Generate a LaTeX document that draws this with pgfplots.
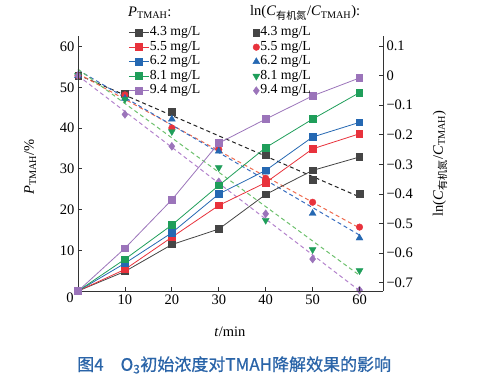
\documentclass[border=0pt]{standalone}
\usepackage{pgfplots}
\pgfplotsset{compat=1.18}
\usepackage{fontspec}
\setmainfont{Liberation Serif}
\newfontfamily\cjk{Noto Sans CJK SC}
\newfontfamily\cjkcap{Noto Sans CJK SC}[FakeBold=0.7]
\newcommand\fs{\fontsize{14.5bp}{17bp}\selectfont}
\newcommand\fl{\fontsize{13.8bp}{16bp}\selectfont}
\definecolor{cblack}{HTML}{454545}
\definecolor{cred}{HTML}{E8323C}
\definecolor{cblue}{HTML}{2568B2}
\definecolor{cgreen}{HTML}{1F9E5A}
\definecolor{cpurple}{HTML}{9B74BA}
\definecolor{dblack}{HTML}{222222}
\definecolor{dred}{HTML}{EE6A4E}
\definecolor{dblue}{HTML}{3A6EC0}
\definecolor{dgreen}{HTML}{6CC06C}
\definecolor{dpurple}{HTML}{B382CC}
\definecolor{capblue}{HTML}{2A64A8}
\pgfplotsset{
  pleg/.style={legend image code/.code={\draw[mark repeat=2,mark phase=2,##1] plot coordinates {(0bp,0bp)(10bp,0bp)(20bp,0bp)};}},
  lnleg/.style={legend image code/.code={\draw[mark repeat=2,mark phase=2,##1] plot coordinates {(0bp,0bp)(5bp,0bp)(10bp,0bp)};}},
  pbase/.style={line width=0.8bp, mark=square*, mark size=3.3bp, mark options={solid}},
  lnbase/.style={only marks, mark size=3.3bp},
  fitline/.style={line width=1bp, dash pattern=on 4bp off 3bp, no marks},
  common/.style={scale only axis, width=305bp, height=255bp, xmin=0, xmax=65,
    tick align=inside, major tick length=4bp,
    tick style={draw=black!80, line width=0.8bp},
    axis line style={draw=black!80, line width=0.8bp, -},
    tick label style={font=\fs}, label style={font=\fs}},
}
\begin{document}
\begin{tikzpicture}[font=\fs]
\useasboundingbox (-78bp,-84bp) rectangle (406bp,291bp);
% right axis: ln(C/C)
\begin{axis}[common,
  ymin=-0.728, ymax=0.134, clip=false,
  axis y line*=right, axis x line=none,
  ytick={-0.7,-0.6,-0.5,-0.4,-0.3,-0.2,-0.1,0,0.1},
  yticklabels={−0.7,−0.6,−0.5,−0.4,−0.3,−0.2,−0.1,0,0.1},
  ylabel={ln(\textit{C}\textsubscript{\cjk 有机氮}/\textit{C}\textsubscript{TMAH})},
  ylabel style={at={(axis description cs:1.187,0.5)}, anchor=center},
]
\addplot[fitline, dblack] coordinates {(0,0.003)(60,-0.410)};
\addplot[fitline, dred] coordinates {(0,0.007)(60,-0.515)};
\addplot[fitline, dblue] coordinates {(0,0.019)(60,-0.539)};
\addplot[fitline, dgreen] coordinates {(0,0.022)(60,-0.675)};
\addplot[fitline, dpurple] coordinates {(0,0.0)(60,-0.727)};
\addplot[lnbase, mark=square*, color=cblack] coordinates {(0,0)(10,-0.060)(20,-0.121)(30,-0.225)(40,-0.269)(50,-0.351)(60,-0.399)};
\addplot[lnbase, mark=*, color=cred] coordinates {(0,0)(10,-0.065)(20,-0.177)(30,-0.249)(40,-0.347)(50,-0.428)(60,-0.512)};
\addplot[lnbase, mark=triangle*, mark size=4bp, color=cblue] coordinates {(0,0)(10,-0.077)(20,-0.147)(30,-0.255)(40,-0.326)(50,-0.466)(60,-0.549)};
\addplot[lnbase, mark=triangle*, mark size=4bp, mark options={rotate=180}, color=cgreen] coordinates {(0,0)(10,-0.080)(20,-0.189)(30,-0.311)(40,-0.489)(50,-0.588)(60,-0.659)};
\addplot[lnbase, mark=diamond*, mark size=4bp, color=cpurple] coordinates {(0,0)(10,-0.131)(20,-0.239)(30,-0.359)(40,-0.467)(50,-0.620)(60,-0.725)};
\end{axis}
% left axis: P_TMAH
\begin{axis}[common,
  ymin=0, ymax=62.6, clip mode=individual,
  axis x line*=bottom, axis y line*=left,
  xtick={10,20,30,40,50,60}, xticklabels={10,20,30,40,50,60},
  ytick={10,20,30,40,50,60}, yticklabels={10,20,30,40,50,60},
  extra x ticks={0}, extra x tick labels={0},
  extra x tick style={major tick length=0pt, xticklabel style={xshift=-8bp, yshift=2bp}},
  xlabel={\textit{t}/min},
  xlabel style={at={(axis description cs:0.498,-0.16)}, anchor=center},
  ylabel={\textit{P}\textsubscript{TMAH}/\%},
  ylabel style={at={(axis description cs:-0.157,0.486)}, anchor=center},
  legend columns=2, legend cell align=left,
  legend style={draw=none, fill=none, font=\fl,
    at={(axis description cs:0.155,1.050)}, anchor=north west,
    nodes={inner sep=0.5bp, text height=10bp, text depth=3.5bp},
    /tikz/every even column/.append style={column sep=52bp}},
]
\addlegendimage{pleg, pbase, cblack}\addlegendentry{4.3 mg/L}
\addlegendimage{lnleg, lnbase, mark=square*, cblack}\addlegendentry{4.3 mg/L}
\addlegendimage{pleg, pbase, cred}\addlegendentry{5.5 mg/L}
\addlegendimage{lnleg, lnbase, mark=*, cred}\addlegendentry{5.5 mg/L}
\addlegendimage{pleg, pbase, cblue}\addlegendentry{6.2 mg/L}
\addlegendimage{lnleg, lnbase, mark=triangle*, mark size=4bp, cblue}\addlegendentry{6.2 mg/L}
\addlegendimage{pleg, pbase, cgreen}\addlegendentry{8.1 mg/L}
\addlegendimage{lnleg, lnbase, mark=triangle*, mark size=4bp, mark options={rotate=180}, cgreen}\addlegendentry{8.1 mg/L}
\addlegendimage{pleg, pbase, cpurple}\addlegendentry{9.4 mg/L}
\addlegendimage{lnleg, lnbase, mark=diamond*, mark size=4bp, cpurple}\addlegendentry{9.4 mg/L}
\addplot[pbase, cblack, forget plot] coordinates {(0,0)(10,4.8)(20,11.4)(30,15.2)(40,23.7)(50,29.6)(60,32.9)};
\addplot[pbase, cred, forget plot] coordinates {(0,0)(10,5.3)(20,13.2)(30,21.0)(40,26.6)(50,34.9)(60,38.6)};
\addplot[pbase, cblue, forget plot] coordinates {(0,0)(10,6.8)(20,14.3)(30,23.8)(40,29.6)(50,37.8)(60,41.4)};
\addplot[pbase, cgreen, forget plot] coordinates {(0,0)(10,7.8)(20,16.2)(30,25.9)(40,35.2)(50,42.2)(60,48.7)};
\addplot[pbase, cpurple, forget plot] coordinates {(0,0)(10,10.5)(20,22.4)(30,36.3)(40,42.2)(50,47.9)(60,52.3)};
\node[anchor=west, inner sep=0pt] at (axis description cs:0.164,1.09) {\textit{P}\textsubscript{TMAH}:};
\node[anchor=west, inner sep=0pt] at (axis description cs:0.564,1.09) {ln(\textit{C}\textsubscript{\cjk 有机氮}/\textit{C}\textsubscript{TMAH}):};
\node[anchor=center, inner sep=0pt] at (axis description cs:0.512,-0.29) {\cjkcap\fontsize{17bp}{19bp}\selectfont\color{capblue}图4\hspace{1em}O\textsubscript{3}初始浓度对TMAH降解效果的影响};
\end{axis}
\end{tikzpicture}
\end{document}
